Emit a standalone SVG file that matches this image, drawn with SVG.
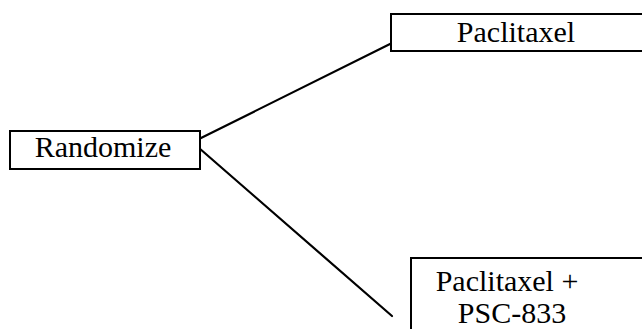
<svg xmlns="http://www.w3.org/2000/svg" width="642" height="329" viewBox="0 0 642 329">
  <style>
    .box { fill: #fff; stroke: #000; stroke-width: 2; }
    .label { font-family: "Liberation Serif", "Times New Roman", serif; font-size: 30px; fill: #000; text-anchor: middle; }
    .link { stroke: #000; stroke-width: 2.2; fill: none; stroke-linecap: round; }
  </style>
  <rect width="642" height="329" fill="#fff"/>

  <g id="connectors">
    <line class="link" x1="199" y1="139" x2="390" y2="44"/>
    <line class="link" x1="199" y1="148" x2="392" y2="316"/>
  </g>

  <g id="randomize">
    <rect class="box" x="10" y="131" width="190" height="38"/>
    <text class="label" x="103" y="157">Randomize</text>
  </g>

  <g id="paclitaxel">
    <rect class="box" x="391" y="14" width="270" height="37"/>
    <text class="label" x="516" y="42">Paclitaxel</text>
  </g>

  <g id="paclitaxel-psc833">
    <rect class="box" x="411" y="258" width="250" height="90"/>
    <text class="label" x="507" y="291">Paclitaxel +</text>
    <text class="label" x="512" y="323">PSC-833</text>
  </g>
</svg>
